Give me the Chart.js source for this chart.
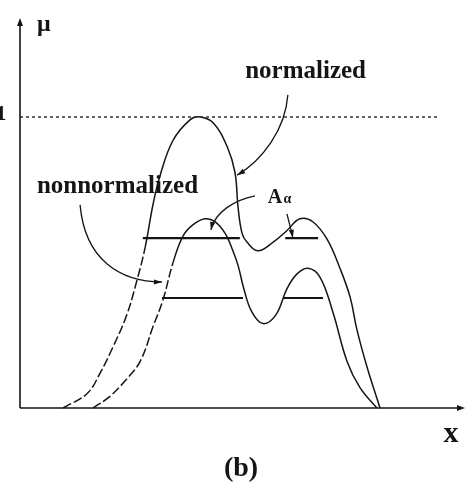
<!DOCTYPE html>
<html>
<head>
<meta charset="utf-8">
<script src="https://cdn.jsdelivr.net/npm/chart.js@4.4.1/dist/chart.umd.min.js"></script>
<style>
html, body { margin: 0; padding: 0; background: #fff; }
#wrap { width: 474px; height: 490px; position: relative; }
</style>
</head>
<body>
<div id="wrap"><canvas id="myChart"></canvas></div>
<script>
// normalized membership function (height 1)
var normX  = [0.97, 1.51, 1.80, 2.09, 2.40, 2.63, 2.81, 2.99, 3.15, 3.44, 3.82, 4.04, 4.34, 4.65, 4.83, 4.90, 4.99, 5.10, 5.35, 5.69, 6.00, 6.29, 6.58, 6.90, 7.19, 7.42, 7.57, 7.80, 8.09];
var normMu = [0.00, 0.05, 0.12, 0.21, 0.32, 0.44, 0.55, 0.70, 0.80, 0.92, 0.99, 1.00, 0.98, 0.90, 0.81, 0.69, 0.60, 0.57, 0.54, 0.57, 0.61, 0.65, 0.64, 0.58, 0.48, 0.38, 0.27, 0.14, 0.00];

// nonnormalized membership function
var rawX  = [1.64, 2.02, 2.40, 2.70, 2.99, 3.21, 3.44, 3.66, 3.89, 4.16, 4.38, 4.61, 4.76, 4.90, 5.03, 5.21, 5.46, 5.75, 6.00, 6.22, 6.47, 6.74, 7.03, 7.35, 7.64, 8.02];
var rawMu = [0.00, 0.04, 0.10, 0.16, 0.28, 0.37, 0.50, 0.59, 0.63, 0.65, 0.64, 0.60, 0.55, 0.49, 0.41, 0.33, 0.29, 0.32, 0.41, 0.46, 0.48, 0.45, 0.33, 0.16, 0.07, 0.00];

// alpha-cuts: level and the intervals at that level
var cutNormLevel = 0.584;
var cutNormX = [[2.76, 4.94], [5.96, 6.70]];
var cutRawLevel = 0.378;
var cutRawX = [[3.19, 5.01], [5.91, 6.81]];

var heightLevel = 1;
var heightLineEnd = 9.44;

var ink = '#151515';
var serif = '"Liberation Serif", "DejaVu Serif", serif';

function pts(xs, ys) {
    return xs.map(function (x, i) { return { x: x, y: ys[i] }; });
}

function cutPts(level, spans) {
    var out = [];
    spans.forEach(function (s, i) {
        if (i > 0) out.push({ x: (spans[i - 1][1] + s[0]) / 2, y: null });
        out.push({ x: s[0], y: level }, { x: s[1], y: level });
    });
    return out;
}

// rising tails are drawn dashed
function tailDash(c) {
    if (c.p1.parsed.y < 0.56 && c.p1.parsed.y > c.p0.parsed.y && c.p1.parsed.x < 3.6) return [9, 3];
    return undefined;
}

// labels and pointer arrows, placed in data units
var notes = [
    { text: 'normalized', x: 5.06, y: 1.134, size: 25 },
    { text: 'nonnormalized', x: 0.38, y: 0.739, size: 25 },
    { text: 'A', x: 5.57, y: 0.704, size: 20 },
    { text: 'α', x: 5.92, y: 0.704, size: 14 }
];
var arrows = [
    { from: [6.02, 1.076], c1: [5.96, 0.955], c2: [5.44, 0.852], to: [4.88, 0.80] },
    { from: [1.35, 0.698], c1: [1.46, 0.509], c2: [2.25, 0.433], to: [3.19, 0.433] },
    { from: [5.28, 0.729], c1: [4.83, 0.715], c2: [4.38, 0.674], to: [4.29, 0.612] },
    { from: [6.00, 0.667], c1: [6.04, 0.64], c2: [6.10, 0.61], to: [6.13, 0.585] }
];

function head(ctx, x0, y0, x1, y1, len, wid) {
    var a = Math.atan2(y1 - y0, x1 - x0);
    ctx.beginPath();
    ctx.moveTo(x1, y1);
    ctx.lineTo(x1 - len * Math.cos(a) + wid * Math.sin(a), y1 - len * Math.sin(a) - wid * Math.cos(a));
    ctx.lineTo(x1 - len * Math.cos(a) - wid * Math.sin(a), y1 - len * Math.sin(a) + wid * Math.cos(a));
    ctx.closePath();
    ctx.fill();
}

var sketchPlugin = {
    id: 'sketch',
    afterDatasetsDraw: function (chart) {
        var ctx = chart.ctx, a = chart.chartArea;
        var xs = chart.scales.x, ys = chart.scales.y;
        ctx.save();
        ctx.strokeStyle = ink;
        ctx.fillStyle = ink;

        // axes with arrowheads
        ctx.lineWidth = 1.6;
        ctx.beginPath();
        ctx.moveTo(a.left, a.bottom);
        ctx.lineTo(a.left, a.top + 4);
        ctx.moveTo(a.left, a.bottom);
        ctx.lineTo(a.right - 4, a.bottom);
        ctx.stroke();
        head(ctx, a.left, a.bottom, a.left, a.top, 8, 3);
        head(ctx, a.left, a.bottom, a.right, a.bottom, 8, 3);

        // pointer arrows
        ctx.lineWidth = 1.3;
        arrows.forEach(function (r) {
            var p0 = [xs.getPixelForValue(r.from[0]), ys.getPixelForValue(r.from[1])];
            var p1 = [xs.getPixelForValue(r.c1[0]), ys.getPixelForValue(r.c1[1])];
            var p2 = [xs.getPixelForValue(r.c2[0]), ys.getPixelForValue(r.c2[1])];
            var p3 = [xs.getPixelForValue(r.to[0]), ys.getPixelForValue(r.to[1])];
            ctx.beginPath();
            ctx.moveTo(p0[0], p0[1]);
            ctx.bezierCurveTo(p1[0], p1[1], p2[0], p2[1], p3[0], p3[1]);
            ctx.stroke();
            head(ctx, p2[0], p2[1], p3[0], p3[1], 8, 2.6);
        });

        // text
        ctx.textBaseline = 'alphabetic';
        ctx.textAlign = 'left';
        notes.forEach(function (n) {
            ctx.font = 'bold ' + n.size + 'px ' + serif;
            ctx.fillText(n.text, xs.getPixelForValue(n.x), ys.getPixelForValue(n.y));
        });

        // axis labels
        ctx.font = 'bold 24px ' + serif;
        ctx.fillText('μ', a.left + 17, a.top + 13);
        ctx.textAlign = 'center';
        ctx.font = 'bold 22px ' + serif;
        ctx.fillText('1', 1, ys.getPixelForValue(heightLevel) + 3);
        ctx.font = 'bold 30px ' + serif;
        ctx.fillText('x', a.right - 14, a.bottom + 34);
        ctx.font = 'bold 28px ' + serif;
        ctx.fillText('(b)', 241, a.bottom + 68);
        ctx.restore();
    }
};

var ctx = document.getElementById('myChart').getContext('2d');
var myChart = new Chart(ctx, {
    type: 'line',
    data: {
        datasets: [
            {
                label: 'height',
                data: [{ x: 0, y: heightLevel }, { x: heightLineEnd, y: heightLevel }],
                borderColor: '#333',
                borderWidth: 1.5,
                borderDash: [3, 3]
            },
            {
                label: 'normalized',
                data: pts(normX, normMu),
                borderColor: ink,
                borderWidth: 1.5,
                tension: 0.4,
                segment: { borderDash: tailDash }
            },
            {
                label: 'nonnormalized',
                data: pts(rawX, rawMu),
                borderColor: ink,
                borderWidth: 1.5,
                tension: 0.4,
                segment: { borderDash: tailDash }
            },
            {
                label: 'cut normalized',
                data: cutPts(cutNormLevel, cutNormX),
                borderColor: ink,
                borderWidth: 2.2,
                spanGaps: false
            },
            {
                label: 'cut nonnormalized',
                data: cutPts(cutRawLevel, cutRawX),
                borderColor: ink,
                borderWidth: 2.2,
                spanGaps: false
            }
        ]
    },
    options: {
        responsive: true,
        maintainAspectRatio: false,
        animation: false,
        clip: false,
        elements: { point: { radius: 0 } },
        layout: { padding: { left: 20, right: 9, top: 18, bottom: 82 } },
        plugins: {
            legend: { display: false },
            tooltip: { enabled: false }
        },
        scales: {
            x: { type: 'linear', min: 0, max: 10, display: false },
            y: { type: 'linear', min: 0, max: 1.34, display: false }
        }
    },
    plugins: [sketchPlugin]
});
</script>
</body>
</html>
